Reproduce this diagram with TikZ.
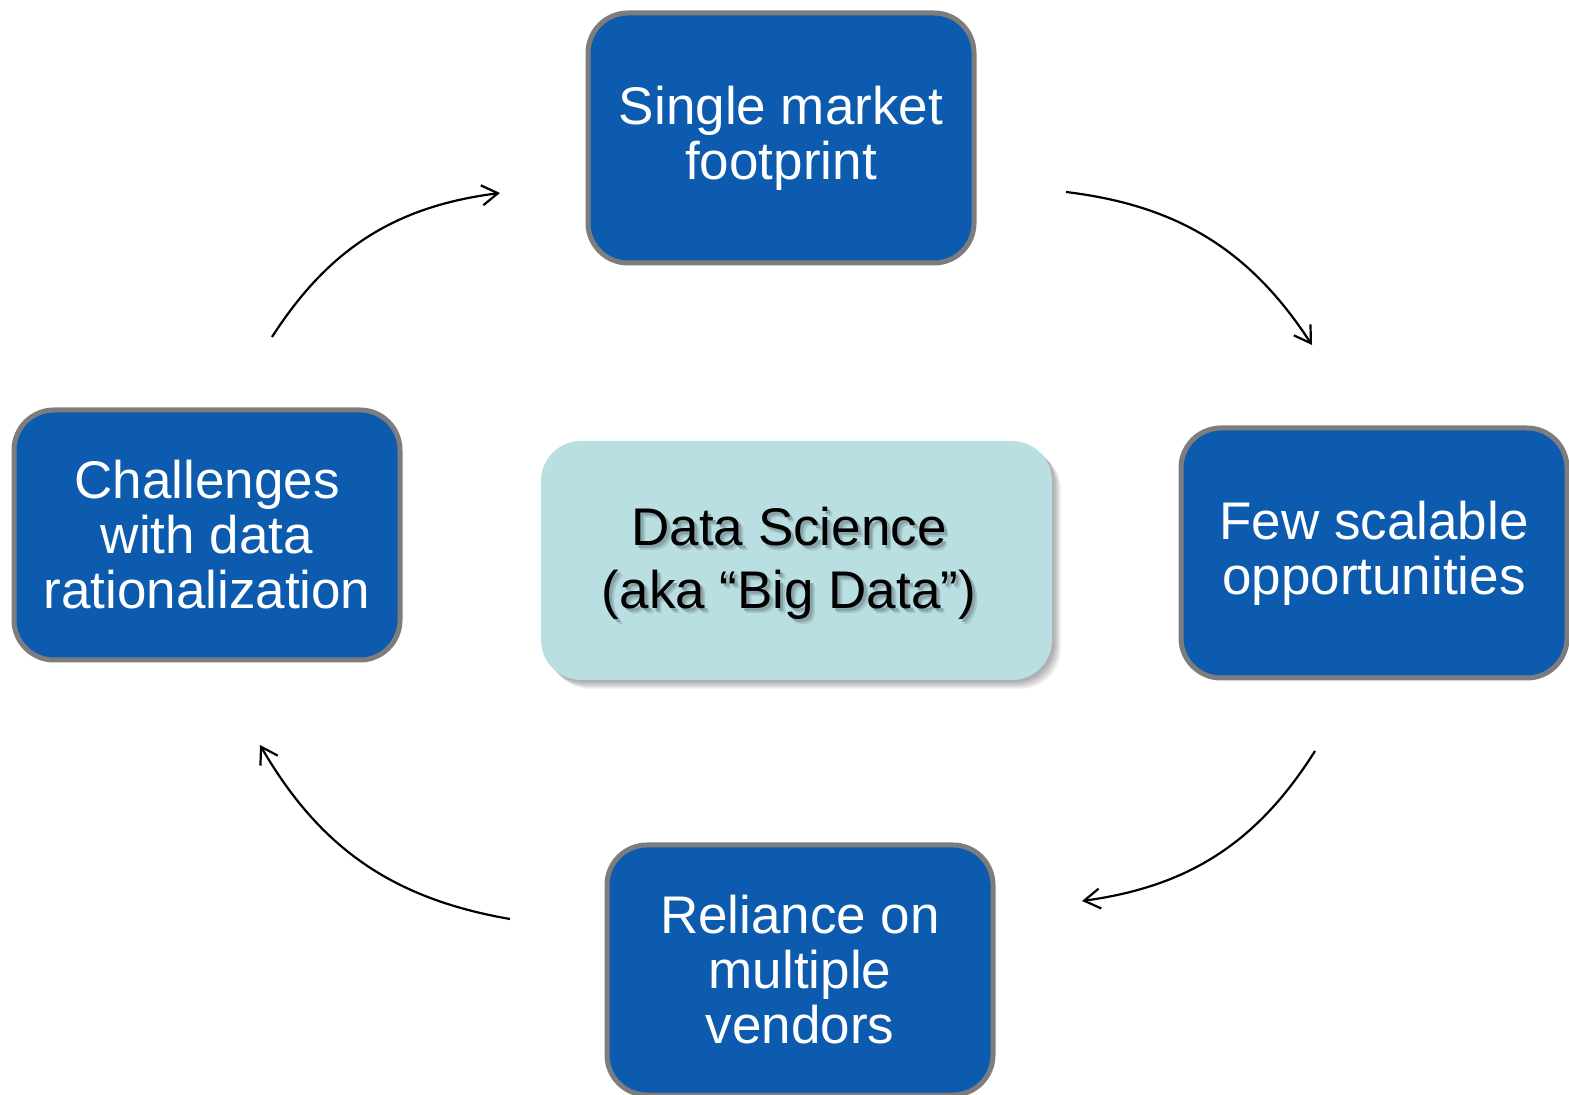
\documentclass[tikz,border=0pt]{standalone}
\usepackage{fontspec}
\setmainfont{Liberation Sans}
\usetikzlibrary{arrows.meta}
\definecolor{boxblue}{RGB}{13,91,175}
\definecolor{boxgray}{RGB}{125,125,125}
\definecolor{cyanfill}{RGB}{185,223,227}
\newcommand{\shadowtxt}[1]{%
  \rlap{\hspace{2.4pt}\raisebox{-2.4pt}{\color{cyanfill!88!black}#1}}%
  \rlap{\hspace{1.5pt}\raisebox{-1.5pt}{\color{cyanfill!74!black}#1}}%
  #1}
\begin{document}
\begin{tikzpicture}[x=0.5pt,y=-0.5pt,
  cyclebox/.style={draw=boxgray, line width=2.5pt, fill=boxblue, rounded corners=20pt,
    minimum width=193pt, minimum height=125pt, inner sep=0pt, text=white, align=center,
    font=\fontsize{26.5}{27.5}\selectfont},
  centerbox/.style={fill=cyanfill, rounded corners=20pt, minimum width=255.5pt,
    minimum height=119.5pt, inner sep=0pt, align=center,
    font=\fontsize{26.5}{31.5}\selectfont},
  flow/.style={-{Straight Barb[length=8pt,width=10pt]}, line width=1.1pt, black}]
\useasboundingbox (0,0) rectangle (1569,1095);
\clip (0,0) rectangle (1569,1095);
\fill[white] (0,0) rectangle (1569,1095);

% cycle boxes
\node[cyclebox] (top) at (781,138) {Single market\\footprint};
\node[cyclebox] (right) at (1374,553) {Few scalable\\opportunities};
\node[cyclebox] (bottom) at (800,970) {Reliance on\\multiple\\vendors};
\node[cyclebox] (left) at (207,535) {Challenges\\with data\\rationalization};

% centre box shadow
\foreach \i in {2,...,9}
  \fill[black, opacity=0.045, rounded corners=20pt] (541+\i,441+\i) rectangle (1052+\i,680+\i);
\node[centerbox] (center) at (796.5,560.5) {};
\node[align=center, inner sep=0pt, font=\fontsize{26.5}{31.5}\selectfont] (centertext) at (789,566)
  {\shadowtxt{Data Science}\\\shadowtxt{(aka “Big Data”)}};

% arrows
\coordinate (a1s) at (272,337); \coordinate (a1e) at (500,193);
\coordinate (a2s) at (1066,192); \coordinate (a2e) at (1312,345);
\coordinate (a3s) at (1315,751); \coordinate (a3e) at (1082,901);
\coordinate (a4s) at (510,919); \coordinate (a4e) at (260,745);
\draw[flow] (a1s) to[bend left=25] (a1e);
\draw[flow] (a2s) to[bend left=25] (a2e);
\draw[flow] (a3s) to[bend left=25] (a3e);
\draw[flow] (a4s) to[bend left=25] (a4e);
\end{tikzpicture}
\end{document}
